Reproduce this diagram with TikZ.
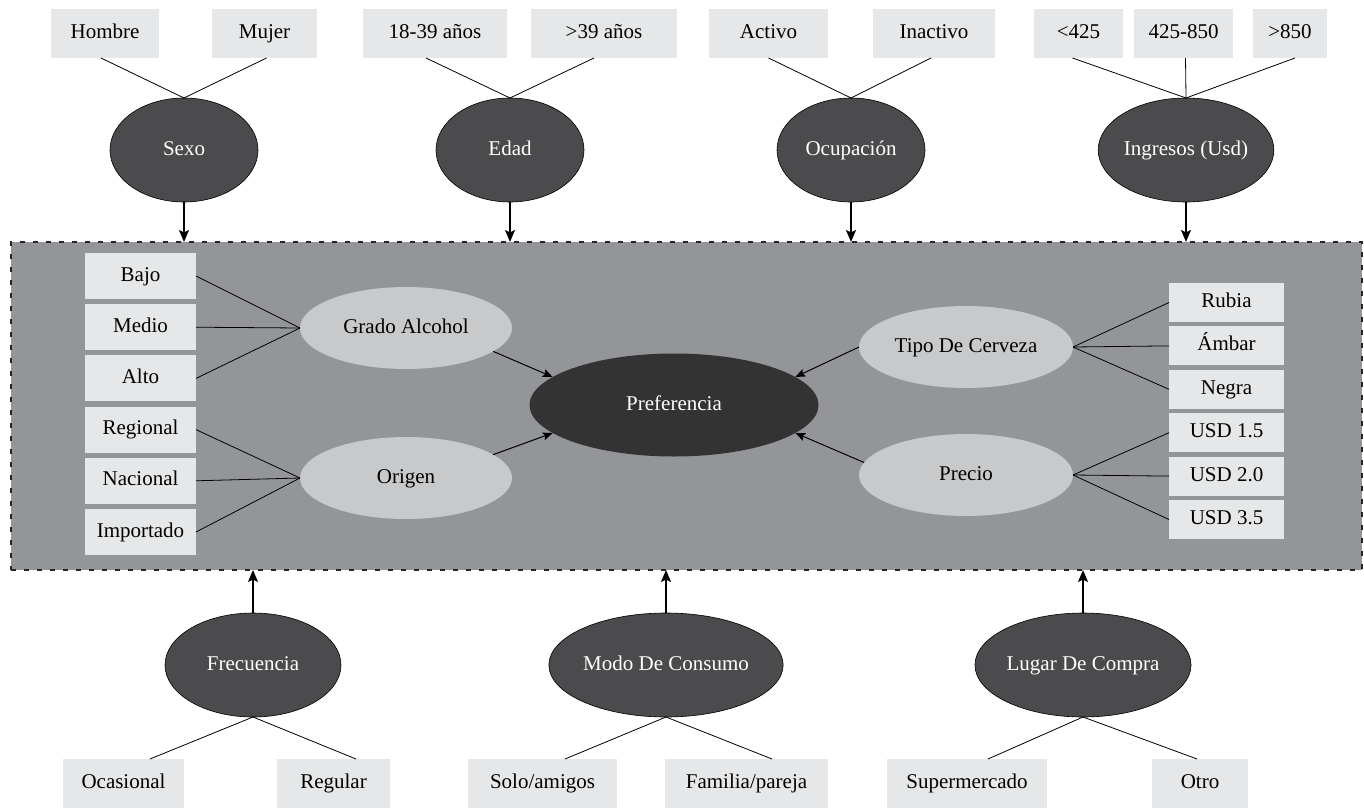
\documentclass[tikz,border=0pt]{standalone}
\usepackage{fontspec}
\setmainfont{Liberation Serif}
\usetikzlibrary{arrows.meta,shapes.geometric}
\definecolor{boxfill}{HTML}{E6E7E8}
\definecolor{framefill}{HTML}{939598}
\definecolor{darkell}{HTML}{4B4B4D}
\definecolor{prefcol}{HTML}{333334}
\definecolor{lightell}{HTML}{C8C9CB}
\begin{document}
\begin{tikzpicture}[x=1pt,y=-1pt,
  every node/.style={font=\fontsize{21}{25}\selectfont, inner sep=0pt, outer sep=0pt, text height=14.7pt, text depth=4.6pt},
  lbox/.style={rectangle, fill=boxfill, text=black},
  topbox/.style={lbox, minimum height=49pt},
  sidebox/.style={lbox, minimum width=111pt, minimum height=46pt},
  rbox/.style={lbox, minimum width=115pt, minimum height=39pt},
  darkell/.style={ellipse, fill=darkell, draw=black, line width=0.6pt, text=white, minimum width=148pt, minimum height=104pt},
  botell/.style={darkell, minimum width=176pt},
  lightell/.style={ellipse, fill=lightell, text=black, minimum width=212pt, minimum height=82pt},
  prefell/.style={ellipse, fill=prefcol, text=white, minimum width=289pt, minimum height=103pt},
  framebox/.style={rectangle, fill=framefill, draw=black!85, line width=1.6pt, dash pattern=on 5pt off 8pt, minimum width=1351pt, minimum height=328pt},
  link/.style={draw=black, line width=0.8pt},
  varrow/.style={draw=black, line width=1.6pt, -{Stealth[length=12pt,width=10pt,inset=2.5pt]}},
  iarrow/.style={draw=black, line width=1pt, -{Stealth[length=10pt,width=8pt,inset=2pt]}}
]
\useasboundingbox (0,0) rectangle (1364,808);

% central frame
\node[framebox] (frame) at (686.5,406) {};

% top boxes
\node[topbox, minimum width=108pt] (hombre) at (105,33.5) {Hombre};
\node[topbox, minimum width=105pt] (mujer) at (264.5,33.5) {Mujer};
\node[topbox, minimum width=144pt] (edadA) at (435,33.5) {18-39 años};
\node[topbox, minimum width=146pt] (edadB) at (604,33.5) {>39 años};
\node[topbox, minimum width=119pt] (activo) at (768.5,33.5) {Activo};
\node[topbox, minimum width=122pt] (inactivo) at (934,33.5) {Inactivo};
\node[topbox, minimum width=89pt] (ingA) at (1078.5,33.5) {<425};
\node[topbox, minimum width=99pt] (ingB) at (1183.5,33.5) {425-850};
\node[topbox, minimum width=74pt] (ingC) at (1290,33.5) {>850};

% top ellipses
\node[darkell] (sexo) at (184,150) {Sexo};
\node[darkell] (edad) at (510,150) {Edad};
\node[darkell] (ocup) at (851,150) {Ocupación};
\node[darkell] (ingr) at (1186,150) {Ingresos (Usd)};

\draw[link] ([xshift=-4pt]hombre.south) -- (sexo.north);
\draw[link] ([xshift=2pt]mujer.south) -- (sexo.north);
\draw[link] ([xshift=-9pt]edadA.south) -- (edad.north);
\draw[link] ([xshift=-10pt]edadB.south) -- (edad.north);
\draw[link] (activo.south) -- (ocup.north);
\draw[link] ([xshift=-3pt]inactivo.south) -- (ocup.north);
\draw[link] ([xshift=-6pt]ingA.south) -- (ingr.north);
\draw[link] ([xshift=2pt]ingB.south) -- (ingr.north);
\draw[link] ([xshift=5pt]ingC.south) -- (ingr.north);

\draw[varrow] (sexo.south) -- (sexo.south |- frame.north);
\draw[varrow] (edad.south) -- (edad.south |- frame.north);
\draw[varrow] (ocup.south) -- (ocup.south |- frame.north);
\draw[varrow] (ingr.south) -- (ingr.south |- frame.north);

% left boxes
\node[sidebox] (bajo) at (140.5,276) {Bajo};
\node[sidebox] (medio) at (140.5,327.2) {Medio};
\node[sidebox] (alto) at (140.5,378.4) {Alto};
\node[sidebox] (regional) at (140.5,429.6) {Regional};
\node[sidebox] (nacional) at (140.5,480.8) {Nacional};
\node[sidebox] (importado) at (140.5,532) {Importado};

% inner ellipses
\node[lightell] (grado) at (406,328) {Grado Alcohol};
\node[lightell] (origen) at (406,478) {Origen};
\node[prefell] (pref) at (674,405) {Preferencia};
\node[lightell, minimum width=214pt] (tipo) at (966,347) {Tipo De Cerveza};
\node[lightell, minimum width=214pt] (precio) at (966,475) {Precio};

% right boxes
\node[rbox] (rubia) at (1226.5,302.5) {Rubia};
\node[rbox] (ambar) at (1226.5,345.9) {Ámbar};
\node[rbox] (negra) at (1226.5,389.3) {Negra};
\node[rbox] (usdA) at (1226.5,432.7) {USD 1.5};
\node[rbox] (usdB) at (1226.5,476.1) {USD 2.0};
\node[rbox] (usdC) at (1226.5,519.5) {USD 3.5};

\draw[link] (bajo.east) -- (grado.west);
\draw[link] (medio.east) -- (grado.west);
\draw[link] (alto.east) -- (grado.west);
\draw[link] (regional.east) -- (origen.west);
\draw[link] (nacional.east) -- (origen.west);
\draw[link] (importado.east) -- (origen.west);
\draw[link] (tipo.east) -- (rubia.west);
\draw[link] (tipo.east) -- (ambar.west);
\draw[link] (tipo.east) -- (negra.west);
\draw[link] (precio.east) -- (usdA.west);
\draw[link] (precio.east) -- (usdB.west);
\draw[link] (precio.east) -- (usdC.west);

\draw[iarrow] (grado.-15) -- (pref.167);
\draw[iarrow] (origen.15) -- (pref.193);
\draw[iarrow] (tipo.west) -- (pref.13);
\draw[iarrow] (precio.173) -- (pref.-13);

% bottom ellipses
\node[botell] (frec) at (253,665) {Frecuencia};
\node[botell] (modo) at (666,665) {Modo De Consumo};
\node[botell] (lugar) at (1083,665) {Lugar De Compra};

\draw[varrow] (frec.north) -- (frec.north |- frame.south);
\draw[varrow] (modo.north) -- (modo.north |- frame.south);
\draw[varrow] (lugar.north) -- (lugar.north |- frame.south);

% bottom boxes
\node[topbox, minimum width=121pt] (ocas) at (123.5,783.5) {Ocasional};
\node[topbox, minimum width=113pt] (regular) at (333.5,783.5) {Regular};
\node[topbox, minimum width=149pt] (solo) at (542.5,783.5) {Solo/amigos};
\node[topbox, minimum width=163pt] (familia) at (746.5,783.5) {Familia/pareja};
\node[topbox, minimum width=160pt] (super) at (967,783.5) {Supermercado};
\node[topbox, minimum width=96pt] (otro) at (1200,783.5) {Otro};

\draw[link] ([xshift=26.5pt]ocas.north) -- (frec.south);
\draw[link] ([xshift=22.5pt]regular.north) -- (frec.south);
\draw[link] ([xshift=22.5pt]solo.north) -- (modo.south);
\draw[link] ([xshift=25.5pt]familia.north) -- (modo.south);
\draw[link] ([xshift=21pt]super.north) -- (lugar.south);
\draw[link] ([xshift=-3pt]otro.north) -- (lugar.south);
\end{tikzpicture}
\end{document}
